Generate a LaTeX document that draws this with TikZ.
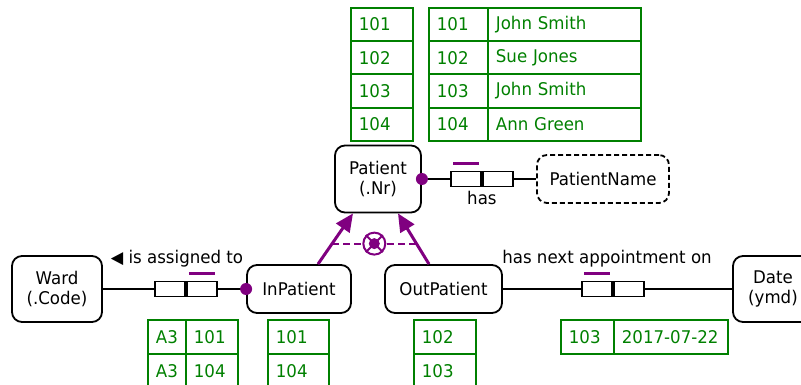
\documentclass[tikz,border=0pt]{standalone}
\usepackage{fontspec}
\setmainfont{DejaVu Sans}[FakeStretch=0.95]
\usetikzlibrary{arrows.meta,calc}
\definecolor{orm}{RGB}{128,0,128}
\definecolor{grn}{RGB}{0,128,0}
\begin{document}
\begin{tikzpicture}[x=1pt,y=-1pt,
  font=\fontsize{17.5}{20.5}\selectfont,
  ent/.style={draw, line width=1.8pt, rounded corners=10pt, align=center, inner sep=0pt},
  valent/.style={ent, dash pattern=on 5pt off 3pt},
  rolebox/.style={draw, line width=1.8pt, minimum width=30pt, minimum height=15pt, inner sep=0pt},
  cell/.style={draw=grn, line width=1.8pt, text=grn, anchor=north west, inner xsep=8pt, inner ysep=0pt, align=left},
  conn/.style={line width=1.8pt},
  uniq/.style={draw=orm, line width=2.4pt},
  dot/.style={circle, fill=orm, inner sep=0pt, minimum size=12pt},
  subarrow/.style={draw=orm, line width=3pt, -{Triangle[length=18pt,width=16pt]}},
  lbl/.style={inner sep=0pt}
]
\useasboundingbox[clip] (0,0) rectangle (801,385);

% ---------- entities
\node[ent, minimum width=86pt, minimum height=67pt] (patient) at (378,179) {Patient\\(.Nr)};
\node[valent, minimum width=132pt, minimum height=48pt] (pname) at (603,179) {PatientName};
\node[ent, minimum width=90pt, minimum height=66pt] (ward) at (57,289) {Ward\\(.Code)};
\node[ent, minimum width=104pt, minimum height=48pt] (inp) at (299,289) {InPatient};
\node[ent, minimum width=117pt, minimum height=48pt] (outp) at (443.5,289) {OutPatient};
\node[ent, minimum width=80pt, minimum height=66pt] (date) at (773,289) {Date\\(ymd)};

% ---------- fact type: Patient has PatientName
\node[rolebox] (has1) at (466,179) {};
\node[rolebox, anchor=west] (has2) at (has1.east) {};
\draw[conn] (patient.east) -- (has1.west);
\draw[conn] (has2.east) -- (pname.west);
\node[dot] (pdot) at (patient.east) {};
\draw[uniq] ([xshift=3pt,yshift=7pt]has1.north west) -- ([xshift=-3pt,yshift=7pt]has1.north east);
\node[lbl, anchor=north] (haslbl) at ([yshift=-4pt]has2.south west) {has};

% ---------- fact type: InPatient is assigned to Ward
\node[rolebox] (as1) at (170,289) {};
\node[rolebox, anchor=west] (as2) at (as1.east) {};
\draw[conn] (ward.east) -- (as1.west);
\draw[conn] (as2.east) -- (inp.west);
\node[dot] (idot) at (inp.west) {};
\draw[uniq] ([xshift=3pt,yshift=7pt]as2.north west) -- ([xshift=-3pt,yshift=7pt]as2.north east);
\node[lbl] (aslbl) at (177,259) {{\fontsize{17}{17}\selectfont ◀}\ is assigned to};

% ---------- fact type: OutPatient has next appointment on Date
\node[rolebox] (ap1) at (597,289) {};
\node[rolebox, anchor=west] (ap2) at (ap1.east) {};
\draw[conn] (outp.east) -- (ap1.west);
\draw[conn] (ap2.east) -- (date.west);
\draw[uniq] ([xshift=3pt,yshift=7pt]ap1.north west) -- ([xshift=-3pt,yshift=7pt]ap1.north east);
\node[lbl] (aplbl) at (607,259) {has next appointment on};

% ---------- subtyping
\coordinate (s1) at ([xshift=19pt]inp.north);
\coordinate (e1) at ([xshift=-25pt]patient.south);
\coordinate (s2) at ([xshift=-14.5pt]outp.north);
\coordinate (e2) at ([xshift=20pt]patient.south);
\draw[subarrow] (s1) -- (e1);
\draw[subarrow] (s2) -- (e2);
\coordinate (x1) at ($(s1)!0.404!(e1)$);
\coordinate (x2) at ($(s2)!0.404!(e2)$);
\draw[orm, line width=2pt, dash pattern=on 7pt off 4pt] (x1) -- (x2);
\node[circle, draw=orm, fill=white, line width=2pt, minimum size=22pt, inner sep=0pt] (xor) at ($(x1)!0.5!(x2)$) {};
\draw[orm, line width=2pt] (xor.north east) -- (xor.south west) (xor.north west) -- (xor.south east);
\node[circle, fill=orm, inner sep=0pt, minimum size=11pt] (xordot) at (xor.center) {};

% ---------- sample populations
% top left: Patient
\foreach \y/\v in {7/101,40.25/102,73.5/103,106.75/104}{
  \node[cell, minimum width=62pt, minimum height=33.25pt, text width=46pt] (pp\v) at (350,\y) {\v};
}
% top right: has
\foreach \y/\v/\n in {7/101/John Smith,40.25/102/Sue Jones,73.5/103/John Smith,106.75/104/Ann Green}{
  \node[cell, minimum width=59pt, minimum height=33.25pt, text width=43pt] (hn\v) at (428,\y) {\v};
  \node[cell, minimum width=153pt, minimum height=33.25pt, text width=137pt] (hm\v) at (487,\y) {\n};
}
% bottom: assigned
\foreach \y/\v in {319/101,353/104}{
  \node[cell, minimum width=38pt, minimum height=34pt, text width=22pt] (aw\v) at (147,\y) {A3};
  \node[cell, minimum width=52pt, minimum height=34pt, text width=36pt] (ap\v) at (185,\y) {\v};
  \node[cell, minimum width=61pt, minimum height=34pt, text width=45pt] (ip\v) at (267,\y) {\v};
}
\foreach \y/\v in {319/102,353/103}{
  \node[cell, minimum width=62pt, minimum height=34pt, text width=46pt] (op\v) at (413,\y) {\v};
}
\node[cell, minimum width=53pt, minimum height=34pt, text width=37pt] (dn) at (560,319) {103};
\node[cell, minimum width=114pt, minimum height=34pt, text width=98pt] (dd) at (613,319) {2017-07-22};
\end{tikzpicture}
\end{document}
